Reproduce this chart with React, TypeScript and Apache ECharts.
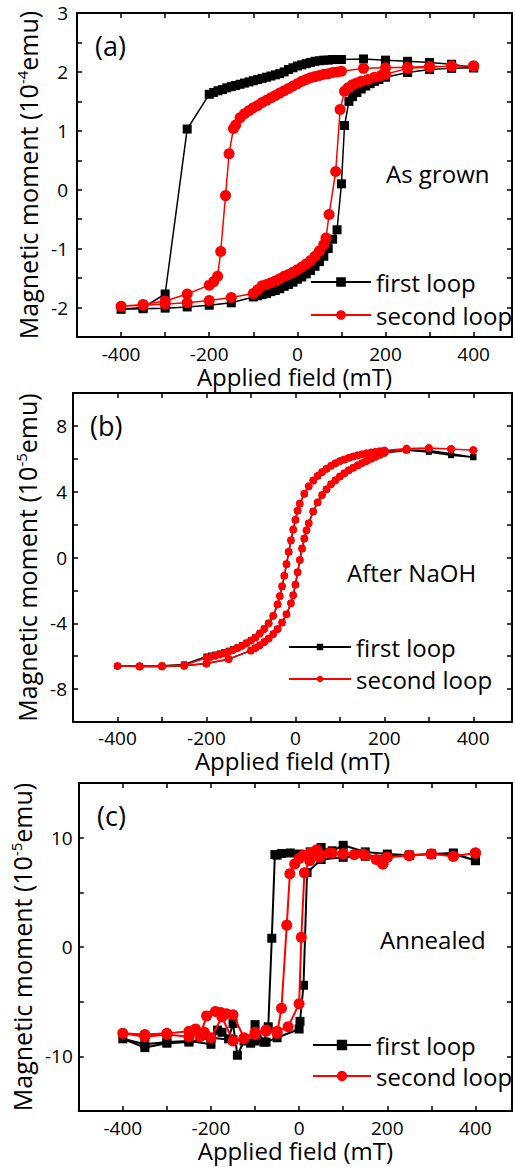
import React, { useEffect, useRef } from 'react';
import * as echarts from 'echarts';

const FONT = '"Open Sans", "Liberation Sans", sans-serif';

// ---- Panel (a): As grown, moment in 1e-4 emu ----
const loopA1: [number, number][] = [
  [400, 2.07], [350, 2.13], [300, 2.16], [250, 2.18], [200, 2.2], [150, 2.22], [100, 2.21],
  [90, 2.21], [80, 2.21], [70, 2.2], [60, 2.2], [50, 2.19], [40, 2.18], [30, 2.16], [20, 2.14],
  [10, 2.12], [0, 2.1], [-10, 2.07], [-20, 2.04], [-30, 2.0], [-40, 1.97], [-50, 1.95],
  [-60, 1.93], [-70, 1.91], [-80, 1.89], [-90, 1.87], [-100, 1.85], [-110, 1.83], [-120, 1.81],
  [-130, 1.79], [-140, 1.77], [-150, 1.75], [-160, 1.73], [-170, 1.7], [-180, 1.68], [-190, 1.65],
  [-200, 1.62], [-250, 1.03], [-300, -1.77], [-350, -2.0], [-400, -2.03],
  [-350, -2.02], [-300, -2.01], [-250, -1.99], [-200, -1.96], [-150, -1.92], [-100, -1.82],
  [-90, -1.8], [-80, -1.78], [-70, -1.76], [-60, -1.73], [-50, -1.71], [-40, -1.68], [-30, -1.64],
  [-20, -1.61], [-10, -1.57], [0, -1.52], [10, -1.48], [20, -1.43], [30, -1.37], [40, -1.3],
  [50, -1.22], [60, -1.13], [70, -1.0], [80, -0.84], [90, -0.68], [100, 0.1], [107, 1.09],
  [117, 1.5], [125, 1.58], [135, 1.65], [145, 1.71], [155, 1.76], [165, 1.8], [175, 1.84],
  [185, 1.87], [200, 1.91], [250, 1.99], [300, 2.04], [350, 2.06], [400, 2.07],
];
const loopA2: [number, number][] = [
  [400, 2.1], [350, 2.1], [300, 2.09], [250, 2.08], [200, 2.07], [150, 2.06], [100, 2.01],
  [90, 2.0], [80, 1.99], [70, 1.97], [60, 1.96], [50, 1.94], [40, 1.92], [30, 1.9], [20, 1.87],
  [10, 1.84], [0, 1.8], [-10, 1.76], [-20, 1.72], [-30, 1.68], [-40, 1.64], [-50, 1.6],
  [-60, 1.56], [-70, 1.52], [-80, 1.48], [-90, 1.43], [-100, 1.39], [-110, 1.34], [-120, 1.29],
  [-130, 1.22], [-140, 1.1], [-145, 1.04], [-155, 0.61], [-163, -0.1], [-174, -1.05],
  [-181, -1.47], [-190, -1.56], [-200, -1.62], [-250, -1.77], [-300, -1.89], [-350, -1.95],
  [-400, -1.98],
  [-350, -1.96], [-300, -1.94], [-250, -1.92], [-200, -1.88], [-150, -1.83], [-100, -1.76],
  [-90, -1.7], [-80, -1.63], [-70, -1.61], [-60, -1.58], [-50, -1.55], [-40, -1.51], [-30, -1.47],
  [-20, -1.44], [-10, -1.4], [0, -1.36], [10, -1.31], [20, -1.26], [30, -1.2], [40, -1.13],
  [50, -1.04], [60, -0.93], [65, -0.82], [72, -0.42], [87, 0.31], [97, 1.36], [107, 1.67],
  [115, 1.73], [125, 1.78], [135, 1.81], [145, 1.84], [160, 1.87], [175, 1.91], [190, 1.94],
  [200, 1.96], [250, 2.06], [300, 2.08], [350, 2.1], [400, 2.1],
];

// ---- Panel (b): After NaOH, moment in 1e-5 emu ----
const loopB1: [number, number][] = [
  [400, 6.1], [350, 6.22], [300, 6.42], [250, 6.52], [200, 6.48], [190, 6.44], [180, 6.4],
  [170, 6.36], [160, 6.31], [150, 6.26], [140, 6.2], [130, 6.13], [120, 6.05], [110, 5.95],
  [100, 5.85], [90, 5.72], [80, 5.57], [70, 5.39], [60, 5.19], [50, 4.95], [40, 4.67], [30, 4.32],
  [20, 3.87], [10, 3.27], [5, 2.84], [0, 2.28], [-5, 1.68], [-10, 1.03], [-15, 0.33], [-20, -0.42],
  [-25, -1.12], [-30, -1.77], [-35, -2.36], [-40, -2.85], [-50, -3.54], [-60, -3.98], [-70, -4.32],
  [-80, -4.59], [-90, -4.83], [-100, -5.02], [-110, -5.18], [-120, -5.33], [-130, -5.46],
  [-140, -5.57], [-150, -5.67], [-160, -5.76], [-170, -5.84], [-180, -5.9], [-190, -5.96],
  [-200, -6.02], [-250, -6.5], [-300, -6.58], [-350, -6.6], [-400, -6.6],
  [-350, -6.62], [-300, -6.62], [-250, -6.58], [-200, -6.45], [-150, -6.18], [-100, -5.65],
  [-90, -5.5], [-80, -5.33], [-70, -5.14], [-60, -4.92], [-50, -4.66], [-40, -4.35], [-30, -3.95],
  [-20, -3.45], [-10, -2.78], [-5, -2.3], [0, -1.65], [5, -0.9], [10, -0.15], [15, 0.55],
  [20, 1.15], [25, 1.65], [30, 2.08], [40, 2.8], [50, 3.35], [60, 3.8], [70, 4.15], [80, 4.45],
  [90, 4.7], [100, 4.92], [110, 5.12], [120, 5.3], [130, 5.46], [140, 5.6], [150, 5.74],
  [160, 5.87], [170, 6.0], [180, 6.12], [190, 6.24], [200, 6.34], [250, 6.52], [300, 6.5],
  [350, 6.3], [400, 6.1],
];
const loopB2: [number, number][] = [
  [400, 6.52], [350, 6.6], [300, 6.65], [250, 6.62], [200, 6.5], [190, 6.46], [180, 6.42],
  [170, 6.38], [160, 6.33], [150, 6.28], [140, 6.22], [130, 6.14], [120, 6.06], [110, 5.96],
  [100, 5.86], [90, 5.73], [80, 5.58], [70, 5.4], [60, 5.2], [50, 4.96], [40, 4.68], [30, 4.33],
  [20, 3.88], [10, 3.28], [5, 2.85], [0, 2.3], [-5, 1.7], [-10, 1.05], [-15, 0.35], [-20, -0.4],
  [-25, -1.1], [-30, -1.75], [-35, -2.35], [-40, -2.85], [-50, -3.55], [-60, -4.0], [-70, -4.35],
  [-80, -4.62], [-90, -4.86], [-100, -5.05], [-110, -5.22], [-120, -5.37], [-130, -5.5],
  [-140, -5.62], [-150, -5.72], [-160, -5.82], [-170, -5.9], [-180, -5.97], [-190, -6.04],
  [-200, -6.1], [-250, -6.55], [-300, -6.6], [-350, -6.62], [-400, -6.6],
  [-350, -6.62], [-300, -6.62], [-250, -6.58], [-200, -6.45], [-150, -6.18], [-100, -5.65],
  [-90, -5.5], [-80, -5.33], [-70, -5.14], [-60, -4.92], [-50, -4.66], [-40, -4.35], [-30, -3.95],
  [-20, -3.45], [-10, -2.78], [-5, -2.3], [0, -1.65], [5, -0.9], [10, -0.15], [15, 0.55],
  [20, 1.15], [25, 1.65], [30, 2.08], [40, 2.8], [50, 3.35], [60, 3.8], [70, 4.15], [80, 4.45],
  [90, 4.7], [100, 4.92], [110, 5.12], [120, 5.3], [130, 5.46], [140, 5.6], [150, 5.74],
  [160, 5.87], [170, 6.0], [180, 6.12], [190, 6.25], [200, 6.36], [250, 6.56], [300, 6.64],
  [350, 6.6], [400, 6.52],
];

// ---- Panel (c): Annealed, moment in 1e-5 emu ----
const loopC1: [number, number][] = [
  [400, 7.9], [350, 8.6], [300, 8.5], [250, 8.4], [200, 8.5], [150, 8.7], [100, 9.3], [75, 8.8],
  [50, 9.1], [25, 8.7], [0, 8.5], [-20, 8.6], [-40, 8.55], [-50, 8.4], [-55, 8.45], [-62, 0.8],
  [-70, -7.3], [-80, -8.7], [-100, -7.1], [-110, -8.8], [-125, -8.6], [-140, -9.9], [-150, -7.0],
  [-160, -8.4], [-175, -7.8], [-185, -7.6], [-200, -8.9], [-250, -8.6], [-300, -8.7],
  [-350, -8.9], [-400, -8.4],
  [-350, -9.2], [-300, -8.8], [-250, -8.7], [-200, -8.3], [-150, -8.5], [-100, -8.6],
  [-75, -8.7], [-50, -8.3], [0, -7.5], [2, -6.8], [10, -3.5], [18, 6.8], [50, 8.0], [100, 8.2],
  [150, 8.3], [200, 8.3], [250, 8.4], [300, 8.5], [350, 8.5], [400, 7.9],
];
const loopC2: [number, number][] = [
  [400, 8.6], [350, 8.3], [300, 8.5], [250, 8.35], [200, 8.2], [190, 7.6], [175, 8.0],
  [150, 8.4], [125, 8.45], [100, 8.55], [75, 8.6], [50, 8.4], [40, 8.9], [25, 8.6], [10, 8.4],
  [0, 8.1], [-10, 7.6], [-21, 6.7], [-28, 2.0], [-40, -5.6], [-50, -7.9], [-75, -7.6],
  [-100, -7.8], [-125, -8.3], [-150, -6.2], [-165, -6.1], [-178, -6.0], [-190, -5.9],
  [-210, -6.3], [-225, -8.2], [-250, -7.7], [-300, -7.9], [-350, -8.0], [-400, -7.9],
  [-350, -8.2], [-300, -8.0], [-250, -8.2], [-235, -7.5], [-215, -7.8], [-200, -8.3],
  [-175, -6.4], [-150, -8.6], [-125, -8.4], [-100, -8.0], [-75, -7.7], [-50, -7.7], [-25, -7.3],
  [0, -5.2], [5, 0.9], [12, 6.8], [24, 7.9], [47, 8.2], [69, 8.6], [100, 8.5], [145, 8.5],
  [190, 7.6], [200, 8.2], [250, 8.4], [300, 8.5], [350, 8.3], [400, 8.6],
];

const panelTags = ['(a)', '(b)', '(c)'];
const panelNotes = ['As grown', 'After NaOH', 'Annealed'];
const legendNames = ['first loop', 'second loop'];
const exponents = ['-4', '-5', '-5'];
const xTitle = 'Applied field (mT)';

const BLACK = '#000000';
const RED = '#ff0000';

export default function App() {
  const ref = useRef<HTMLDivElement>(null);
  useEffect(() => {
    if (!ref.current) return;
    const chart = echarts.init(ref.current, undefined, { renderer: 'svg' });

    const grids = [
      { left: 77, top: 13, width: 435, height: 324 },
      { left: 73, top: 393, width: 439, height: 329 },
      { left: 78, top: 783, width: 435, height: 328 },
    ];
    const xMax = [487, 487, 483];
    const yCfg = [
      { min: -2.5, max: 3, interval: 0.5, show: (v: number) => Math.abs(v - Math.round(v)) < 1e-9 },
      { min: -10, max: 10, interval: 2, show: (v: number) => Math.abs(v) < 10 && v % 4 === 0 },
      { min: -15, max: 15, interval: 5, show: (v: number) => Math.abs(v) < 15 && v % 10 === 0 },
    ];
    const xNameGap = [26, 27, 28];
    const yNameGap = [34, 33, 35];
    const yLabelMargin = [9, 6, 6];
    const xLabelMargin = [10, 9, 10];

    const axisLine = { show: true, onZero: false, lineStyle: { color: BLACK, width: 2 } };
    const axisTick = { show: true, inside: true, length: 5, lineStyle: { color: BLACK, width: 1.5 } };

    const xAxis: any[] = [];
    const yAxis: any[] = [];
    grids.forEach((_, i) => {
      xAxis.push({
        type: 'value', gridIndex: i, min: -500, max: xMax[i], interval: 100, position: 'bottom',
        name: xTitle, nameLocation: 'middle', nameGap: xNameGap[i],
        nameTextStyle: { fontFamily: FONT, fontSize: 24, color: BLACK, lineHeight: 20 },
        axisLine, axisTick,
        axisLabel: {
          formatter: (v: number) => (v % 200 === 0 ? String(v) : ''),
          fontFamily: FONT, fontSize: 19, color: BLACK, margin: xLabelMargin[i], lineHeight: 14,
        },
        splitLine: { show: false },
      });
      xAxis.push({
        type: 'value', gridIndex: i, min: -500, max: xMax[i], interval: 100, position: 'top',
        axisLine, axisTick, axisLabel: { show: false }, splitLine: { show: false },
      });
      const yc = yCfg[i];
      yAxis.push({
        type: 'value', gridIndex: i, min: yc.min, max: yc.max, interval: yc.interval, position: 'left',
        name: `Magnetic moment (10{sup|${exponents[i]}}emu)`, nameLocation: 'middle', nameGap: yNameGap[i],
        nameTextStyle: {
          fontFamily: FONT, fontSize: 25, color: BLACK,
          rich: { sup: { fontFamily: FONT, fontSize: 15, color: BLACK, padding: [0, 0, 12, 0] } },
        },
        axisLine, axisTick,
        axisLabel: {
          formatter: (v: number) => (yc.show(v) ? String(Math.round(v)) : ''),
          fontFamily: FONT, fontSize: 19, color: BLACK, margin: yLabelMargin[i],
        },
        splitLine: { show: false },
      });
      yAxis.push({
        type: 'value', gridIndex: i, min: yc.min, max: yc.max, interval: yc.interval, position: 'right',
        axisLine, axisTick, axisLabel: { show: false }, splitLine: { show: false },
      });
    });

    const loops = [[loopA1, loopA2], [loopB1, loopB2], [loopC1, loopC2]];
    const sq = [9, 6, 9];
    const ci = [11, 8, 11];
    const lw = [1.5, 1.5, 2];
    const series: any[] = [];
    loops.forEach((pair, i) => {
      series.push({
        type: 'line', name: `${legendNames[0]}|${i}`, xAxisIndex: 2 * i, yAxisIndex: 2 * i,
        data: pair[0], symbol: 'rect', symbolSize: sq[i], showSymbol: true,
        lineStyle: { color: BLACK, width: lw[i] }, itemStyle: { color: BLACK }, z: 2,
      });
      series.push({
        type: 'line', name: `${legendNames[1]}|${i}`, xAxisIndex: 2 * i, yAxisIndex: 2 * i,
        data: pair[1], symbol: 'circle', symbolSize: ci[i], showSymbol: true,
        lineStyle: { color: RED, width: lw[i] }, itemStyle: { color: RED }, z: 3,
      });
    });

    const legendPos = [
      { left: 305, top: 265, itemWidth: 60, itemHeight: 12, itemGap: 9 },
      { left: 283, top: 630, itemWidth: 62, itemHeight: 8, itemGap: 8 },
      { left: 307, top: 1028, itemWidth: 58, itemHeight: 13, itemGap: 7 },
    ];
    const legend = legendPos.map((p, i) => ({
      ...p,
      orient: 'vertical',
      data: legendNames.map((n) => `${n}|${i}`),
      formatter: (name: string) => name.split('|')[0],
      selectedMode: false,
      textStyle: { fontFamily: FONT, fontSize: 24, color: BLACK, lineHeight: 24 },
    }));

    const tagPos = [
      { x: 95, y: 45 }, { x: 90, y: 425 }, { x: 97, y: 815 },
    ];
    const notePos = [
      { x: 386, y: 173 }, { x: 347, y: 572 }, { x: 380, y: 939 },
    ];
    const graphic: any[] = [];
    panelTags.forEach((t, i) => {
      graphic.push({
        type: 'text', x: tagPos[i].x, y: tagPos[i].y, z: 10,
        style: { text: t, font: `27px ${FONT}`, fill: BLACK, align: 'left', verticalAlign: 'middle' },
      });
      graphic.push({
        type: 'text', x: notePos[i].x, y: notePos[i].y, z: 10,
        style: { text: panelNotes[i], font: `24px ${FONT}`, fill: BLACK, align: 'left', verticalAlign: 'middle' },
      });
    });

    chart.setOption({
      animation: false,
      backgroundColor: '#ffffff',
      grid: grids,
      xAxis,
      yAxis,
      series,
      legend,
      graphic,
    });
    return () => chart.dispose();
  }, []);

  return (
    <div
      ref={ref}
      style={{ position: 'absolute', left: 0, top: 0, width: 515, height: 1167, background: '#fff' }}
    />
  );
}
